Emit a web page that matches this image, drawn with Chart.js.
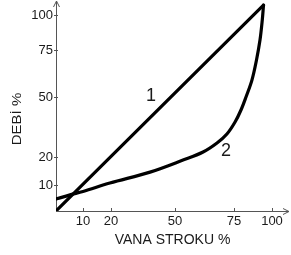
<!DOCTYPE html>
<html><head><meta charset="utf-8">
<script src="https://cdn.jsdelivr.net/npm/chart.js@4.4.0/dist/chart.umd.min.js"></script>
<style>html,body{margin:0;padding:0;background:#fff;}#wrap{width:291px;height:255px;}</style>
</head><body><div id="wrap"><canvas id="c" width="291" height="255"></canvas></div>
<script>
// ---- data (percent values) ----
const xTickValues = [10, 20, 50, 75, 100];
const yTickValues = [10, 20, 50, 75, 100];
const line1Stroke = [0, 94.4];
const line1Flow   = [0, 107];
const curve2Stroke = [0, 5.2, 10, 19.6, 38.3, 53.4, 61.9, 67.8, 72, 75.7, 79.6, 82.9, 86.8, 89.8, 92.1, 93.6, 94.4];
const curve2Flow   = [4.6, 6.2, 7.5, 10.7, 14.6, 18.9, 22.5, 27, 31.5, 37.5, 43.5, 50, 59, 69.7, 82.1, 96.4, 107];
const seriesNames = ['1', '2'];
const xTitle = 'VANA STROKU %';
const yTitle = 'DEBİ %';

// ---- non-uniform axis (the sketch's axes are not evenly spaced) ----
const KNOTS = {
  x: { v: [0, 10, 20, 50, 75, 100, 111], f: [0, 27, 55, 119, 178, 216, 233].map(p => p / 233) },
  y: { v: [0, 10, 20, 50, 75, 100, 110], f: [0, 26, 54, 114, 161, 196, 210].map(p => p / 210) }
};
function interp(xs, ys, t) {
  let i = 0;
  if (t <= xs[0]) i = 0;
  else if (t >= xs[xs.length - 1]) i = xs.length - 2;
  else { while (i < xs.length - 2 && t > xs[i + 1]) i++; }
  const r = (t - xs[i]) / (xs[i + 1] - xs[i]);
  return ys[i] + r * (ys[i + 1] - ys[i]);
}
class WarpScale extends Chart.LinearScale {
  getPixelForValue(v) {
    if (v === null || v === undefined || isNaN(v)) return NaN;
    const k = KNOTS[this.axis];
    return this.getPixelForDecimal(interp(k.v, k.f, v));
  }
  getValueForPixel(p) {
    const k = KNOTS[this.axis];
    return interp(k.f, k.v, this.getDecimalForPixel(p));
  }
}
WarpScale.id = 'warp';
WarpScale.defaults = Chart.LinearScale.defaults;
Chart.register(WarpScale);

const SANS = '"Liberation Sans", Arial, sans-serif';
const TEXT = '#1a1a1a';
const AXIS = '#555';

const sketchPlugin = {
  id: 'sketch',
  beforeDatasetsDraw(chart) {
    const ctx = chart.ctx, xs = chart.scales.x, ys = chart.scales.y;
    const x0 = xs.getPixelForValue(0), y0 = ys.getPixelForValue(0);
    const xEnd = chart.chartArea.right, yTop = chart.chartArea.top;
    ctx.save();
    ctx.strokeStyle = AXIS; ctx.lineWidth = 1;
    ctx.beginPath();
    ctx.moveTo(x0 + 0.5, y0); ctx.lineTo(x0 + 0.5, yTop);
    ctx.moveTo(x0, y0 + 0.5); ctx.lineTo(xEnd, y0 + 0.5);
    ctx.moveTo(x0 + 0.5 - 3, yTop + 6); ctx.lineTo(x0 + 0.5, yTop); ctx.lineTo(x0 + 0.5 + 3, yTop + 6);
    ctx.moveTo(xEnd - 6, y0 + 0.5 - 3); ctx.lineTo(xEnd, y0 + 0.5); ctx.lineTo(xEnd - 6, y0 + 0.5 + 3);
    xTickValues.forEach(v => { const p = Math.round(xs.getPixelForValue(v)) + 0.5; ctx.moveTo(p, y0); ctx.lineTo(p, y0 - 3); });
    yTickValues.forEach(v => { const p = Math.round(ys.getPixelForValue(v)) + 0.5; ctx.moveTo(x0 - 2, p); ctx.lineTo(x0 + 2, p); });
    ctx.stroke();
    ctx.fillStyle = TEXT;
    ctx.translate(18, 119);
    ctx.rotate(-Math.PI / 2);
    ctx.scale(1, 0.8);
    ctx.font = '15px ' + SANS;
    ctx.textAlign = 'center'; ctx.textBaseline = 'middle';
    ctx.fillText(yTitle, 0, 0);
    ctx.restore();
  },
  afterDatasetsDraw(chart) {
    const ctx = chart.ctx, xs = chart.scales.x, ys = chart.scales.y;
    const pos = chart.options.plugins.sketch.labelAt;
    ctx.save();
    ctx.fillStyle = TEXT;
    ctx.font = '18px ' + SANS;
    ctx.textAlign = 'center'; ctx.textBaseline = 'middle';
    seriesNames.forEach((n, i) => {
      ctx.fillText(n, xs.getPixelForValue(pos[i][0]), ys.getPixelForValue(pos[i][1]) + 1);
    });
    ctx.restore();
  }
};

new Chart(document.getElementById('c'), {
  type: 'line',
  data: {
    datasets: [
      { label: seriesNames[0], data: line1Stroke.map((x, i) => ({ x, y: line1Flow[i] })),
        borderColor: '#000', borderWidth: 3.2, pointRadius: 0, tension: 0, borderCapStyle: 'round', borderJoinStyle: 'round' },
      { label: seriesNames[1], data: curve2Stroke.map((x, i) => ({ x, y: curve2Flow[i] })),
        borderColor: '#000', borderWidth: 3.2, pointRadius: 0, tension: 0.35, borderCapStyle: 'round' }
    ]
  },
  options: {
    responsive: false, animation: false, devicePixelRatio: 1,
    layout: { padding: { top: 1, right: 2, left: 0, bottom: 0 } },
    plugins: { legend: { display: false }, tooltip: { enabled: false },
      sketch: { labelAt: [[38.75, 51], [71.6, 23.5]] } },
    scales: {
      x: { type: 'warp', min: 0, max: 111,
        grid: { display: false, drawTicks: false, tickLength: 0 }, border: { display: false },
        afterBuildTicks: s => { s.ticks = xTickValues.map(v => ({ value: v })); },
        ticks: { font: { family: SANS, size: 13 }, color: TEXT, padding: 3, maxRotation: 0, autoSkip: false,
          callback: v => String(v) },
        title: { display: true, text: xTitle, font: { family: SANS, size: 14 }, color: TEXT, padding: { top: 0, bottom: 6 } },
        afterFit: s => { s.height = 44; s.paddingLeft = 0; s.paddingRight = 0; } },
      y: { type: 'warp', min: 0, max: 110,
        grid: { display: false, drawTicks: false, tickLength: 0 }, border: { display: false },
        afterBuildTicks: s => { s.ticks = yTickValues.map(v => ({ value: v })); },
        ticks: { font: { family: SANS, size: 13 }, color: TEXT, padding: 3, autoSkip: false,
          callback: v => String(v) },
        afterFit: s => { s.width = 56; s.paddingTop = 0; s.paddingBottom = 0; } }
    }
  },
  plugins: [sketchPlugin]
});
</script></body></html>
